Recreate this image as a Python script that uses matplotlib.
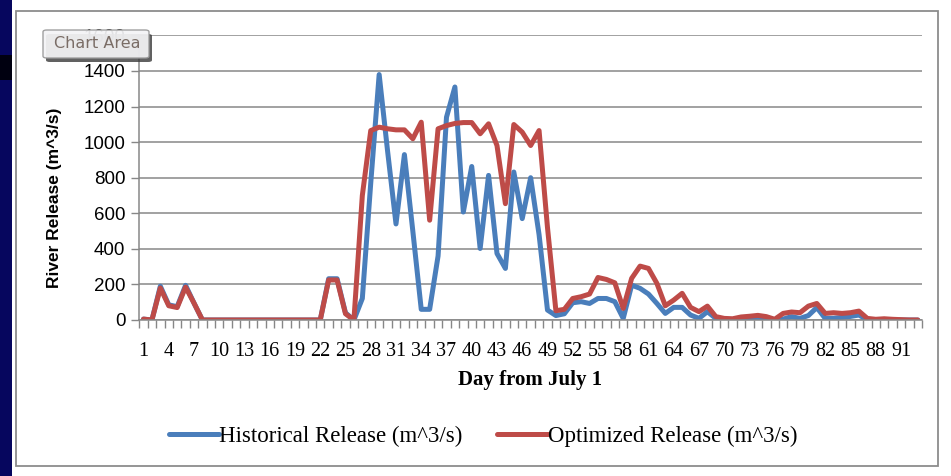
import numpy as np
import matplotlib.pyplot as plt
from matplotlib.patches import Rectangle, FancyBboxPatch

# daily river release, July 1 onward (m^3/s)
days = np.arange(1, 94)
historical = [5, 0, 190, 85, 75, 195, 95, 0,
              0, 0, 0, 0, 0, 0, 0, 0, 0, 0, 0, 0, 0, 0,
              232, 232, 40, 0, 121, 770, 1380, 950, 540, 930,
              500, 60, 60, 360, 1140, 1310, 607, 863, 402, 813,
              374, 290, 832, 570, 800, 480, 56, 25, 35, 97,
              103, 93, 121, 121, 103, 9, 196, 178, 146, 93,
              37, 71, 71, 28, 9, 47, 9, 4, 2, 4,
              6, 6, 4, 0, 5, 19, 9, 25, 70, 9,
              10, 15, 20, 28, 2, 0, 3, 0, 0, 0, 0]
optimized = [5, 0, 180, 80, 70, 185, 95, 0,
             0, 0, 0, 0, 0, 0, 0, 0, 0, 0, 0, 0, 0, 0,
             225, 225, 35, 0, 700, 1065, 1084, 1075, 1069, 1069,
             1019, 1112, 561, 1075, 1093, 1105, 1110, 1110, 1047, 1103,
             981, 654, 1099, 1056, 981, 1065, 520, 52, 60, 121,
             131, 146, 239, 228, 209, 65, 234, 303, 290, 206,
             80, 112, 150, 71, 47, 78, 19, 9, 7, 17,
             21, 26, 19, 4, 37, 45, 41, 78, 93, 37,
             41, 37, 41, 50, 9, 4, 7, 4, 2, 0, 0]
label_days = list(range(1, 94, 3))
y_ticks = list(range(0, 1601, 200))

W, H = 951, 476


def fx(x):
    return x / W


def fy(y):
    return 1 - y / H


fig = plt.figure(figsize=(W / 100, H / 100), dpi=100)
fig.patch.set_facecolor('white')

# slide background strip on the left
fig.add_artist(Rectangle((0, 0), fx(12), 1, transform=fig.transFigure,
                         facecolor='#06065e', edgecolor='none'))
fig.add_artist(Rectangle((0, fy(80)), fx(12), 25 / H, transform=fig.transFigure,
                         facecolor='#000010', edgecolor='none'))
# chart area border
fig.add_artist(Rectangle((fx(16), fy(466)), fx(922), 455 / H, transform=fig.transFigure,
                         facecolor='none', edgecolor='#8c8c8c', linewidth=1.3))

ax = fig.add_axes([fx(139.3), fy(320), fx(922 - 139.3), (320 - 35.4) / H])
grid_col = '#878787'
ax.plot(days, historical, color='#4a7ebb', lw=3.6, solid_joinstyle='round',
        solid_capstyle='round', label='Historical Release (m^3/s)')
ax.plot(days, optimized, color='#be4b48', lw=3.6, solid_joinstyle='round',
        solid_capstyle='round', label='Optimized Release (m^3/s)')

ax.set_xlim(0.5, 93.5)
ax.set_ylim(0, 1600)
ax.set_yticks(y_ticks)
ax.set_yticklabels([str(v) for v in y_ticks], fontfamily='Liberation Sans', fontsize=13.5)
ax.set_xticks(label_days)
ax.set_xticklabels([str(d) for d in label_days], fontfamily='Liberation Serif', fontsize=14.5)
ax.set_xticks(np.arange(0.5, 94, 1), minor=True)
ax.tick_params(axis='x', which='major', length=0, pad=16)
ax.tick_params(axis='x', which='minor', length=6, width=1, color=grid_col, direction='out')
ax.tick_params(axis='y', length=6, width=1, color=grid_col, pad=4)
ax.grid(axis='y', color=grid_col, linewidth=1.1)
ax.set_axisbelow(True)
for s in ['top', 'right']:
    ax.spines[s].set_visible(False)
for s in ['left', 'bottom']:
    ax.spines[s].set_color(grid_col)
    ax.spines[s].set_linewidth(1.1)

fig.text(fx(530), fy(380), 'Day from July 1', ha='center', va='center',
         fontfamily='Liberation Serif', fontweight='bold', fontsize=15)
fig.text(fx(55), fy(198), 'River Release (m^3/s)', ha='center', va='center',
         rotation=90, fontfamily='Liberation Sans', fontweight='bold', fontsize=12.5)

fig.legend(loc='center', bbox_to_anchor=(fx(483), fy(436)), ncol=2, frameon=False,
           prop={'family': 'Liberation Serif', 'size': 16.5}, handlelength=2.2,
           handletextpad=0.0, columnspacing=1.5)

# hover tooltip over the top corner
fig.add_artist(FancyBboxPatch((fx(46), fy(62)), fx(106), 28 / H, transform=fig.transFigure,
                              boxstyle='round,pad=0,rounding_size=0.004',
                              facecolor='#3a3a3a', edgecolor='none', alpha=0.8))
fig.add_artist(FancyBboxPatch((fx(43), fy(58)), fx(106), 28 / H, transform=fig.transFigure,
                              boxstyle='round,pad=0,rounding_size=0.004',
                              facecolor='#f4f4f6', edgecolor='#9a9a9a', linewidth=1, alpha=0.93))
fig.text(fx(97), fy(44), 'Chart Area', ha='center', va='center',
         fontfamily='DejaVu Sans', fontsize=11.5, color='#7a6d66')

fig.savefig('out.png', dpi=100)
